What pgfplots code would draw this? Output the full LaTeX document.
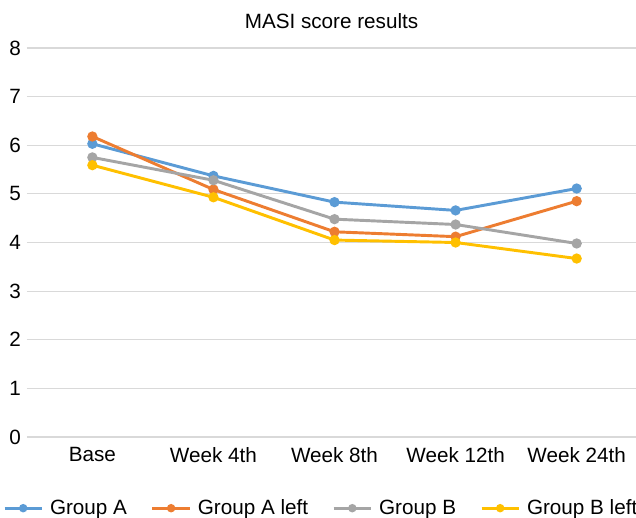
\documentclass[border=0pt]{standalone}
\usepackage{fontspec}
\setmainfont{Liberation Sans}
\usepackage{pgfplots}
\pgfplotsset{compat=1.18}
\definecolor{cA}{HTML}{5B9BD5}
\definecolor{cAL}{HTML}{ED7D31}
\definecolor{cB}{HTML}{A5A5A5}
\definecolor{cBL}{HTML}{FFC000}
\definecolor{gridc}{HTML}{D9D9D9}
\begin{document}
\begin{tikzpicture}
\useasboundingbox (-20.25pt,-60.75pt) rectangle (456.75pt,327.75pt);
\begin{axis}[
  scale only axis,
  width=456.75pt, height=291.75pt,
  xmin=-0.54, xmax=4.49,
  ymin=0, ymax=8,
  ytick={0,1,...,8},
  xtick={0,1,2,3,4},
  xticklabels={Base,Week 4th,Week 8th,Week 12th,Week 24th},
  axis line style={draw=none},
  major tick length=0pt,
  ymajorgrids,
  grid style={gridc, line width=0.8pt},
  /pgf/number format/assume math mode=true,
  tick label style={font=\fontsize{15.5}{18}\selectfont, text=black},
  yticklabel style={xshift=-1pt},
  xticklabel style={yshift=-4pt},
  title={MASI score results},
  title style={font=\fontsize{15.5}{18}\selectfont, yshift=5pt},
  legend columns=4,
  legend style={draw=none, fill=none, at={(0.4836,-0.183)}, anchor=center,
    font=\fontsize{15.5}{18}\selectfont,
    /tikz/every odd column/.append style={column sep=3pt},
    /tikz/every even column/.append style={column sep=16pt}},
  legend image code/.code={\draw[mark repeat=2,mark phase=2,#1,mark size=2pt] plot coordinates {(0pt,0pt) (14pt,0pt) (28pt,0pt)};},
  every axis plot/.append style={line width=2.2pt, mark=*, mark size=2.7pt},
]
\addplot[cA, mark options={fill=cA}] coordinates {(0,6.03) (1,5.37) (2,4.83) (3,4.66) (4,5.11)};
\addlegendentry{Group A}
\addplot[cAL, mark options={fill=cAL}] coordinates {(0,6.18) (1,5.09) (2,4.22) (3,4.12) (4,4.85)};
\addlegendentry{Group A left}
\addplot[cB, mark options={fill=cB}] coordinates {(0,5.75) (1,5.28) (2,4.48) (3,4.37) (4,3.98)};
\addlegendentry{Group B}
\addplot[cBL, mark options={fill=cBL}] coordinates {(0,5.59) (1,4.93) (2,4.05) (3,4.00) (4,3.67)};
\addlegendentry{Group B left}
\end{axis}
\end{tikzpicture}
\end{document}
